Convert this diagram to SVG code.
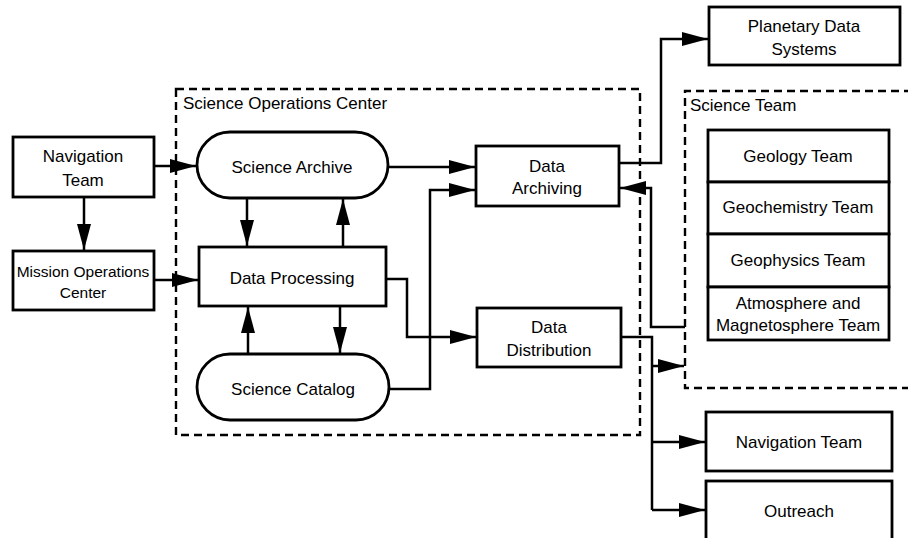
<svg xmlns="http://www.w3.org/2000/svg" width="908" height="538" viewBox="0 0 908 538">
<style>
.box{fill:#fff;stroke:#000;stroke-width:2.8}
.dash{fill:none;stroke:#000;stroke-width:2.4;stroke-dasharray:8,5}
.ln{fill:none;stroke:#000;stroke-width:2.5}
.arr{marker-end:url(#ah)}
text{font-family:"Liberation Sans",Arial,sans-serif;font-size:17px;fill:#000}
.c{text-anchor:middle}
</style>
<defs>
<marker id="ah" markerUnits="userSpaceOnUse" markerWidth="28" markerHeight="16" refX="26" refY="7" orient="auto">
<path d="M0,0 L26,7 L0,14 z" fill="#000"/>
</marker>
</defs>
<rect width="908" height="538" fill="#fff"/>

<g id="soc">
<rect class="dash" x="176" y="89" width="464" height="346"/>
<text x="183" y="109">Science Operations Center</text>
</g>
<g id="science-team">
<path class="dash" d="M912,91 H685 V388 H912"/>
<text x="690" y="111">Science Team</text>
</g>

<g id="connectors">
<path class="ln arr" d="M84,197 V250"/>
<path class="ln arr" d="M154,166 H196"/>
<path class="ln arr" d="M154,280 H198"/>
<path class="ln arr" d="M247,198 V246"/>
<path class="ln arr" d="M343,247 V199"/>
<path class="ln arr" d="M248,354 V307"/>
<path class="ln arr" d="M340,306 V353"/>
<path class="ln arr" d="M388,167 H475"/>
<path class="ln arr" d="M389,389 H430 V190 H475"/>
<path class="ln arr" d="M386,279 H407 V337 H476"/>
<path class="ln arr" d="M619,163 H661 V39 H708"/>
<path class="ln arr" d="M685,327 H651 V188 H620"/>
<path class="ln" d="M621,337 H652 V510"/>
<path class="ln arr" d="M652,366 H684"/>
<path class="ln arr" d="M652,442 H705"/>
<path class="ln arr" d="M652,510 H705"/>
</g>

<g id="nav-team-left">
<rect class="box" x="13" y="137" width="141" height="60"/>
<text class="c" x="83" y="162">Navigation</text>
<text class="c" x="83" y="186">Team</text>
</g>
<g id="moc">
<rect class="box" x="13" y="251" width="141" height="59"/>
<text class="c" x="83" y="277" style="font-size:15.5px">Mission Operations</text>
<text class="c" x="83" y="298" style="font-size:15.5px">Center</text>
</g>
<g id="science-archive">
<rect class="box" x="197" y="132" width="191" height="66" rx="33" ry="33"/>
<text class="c" x="292" y="173">Science Archive</text>
</g>
<g id="data-processing">
<rect class="box" x="199" y="247" width="187" height="59"/>
<text class="c" x="292" y="284">Data Processing</text>
</g>
<g id="science-catalog">
<rect class="box" x="197" y="354" width="192" height="66" rx="33" ry="33"/>
<text class="c" x="293" y="395">Science Catalog</text>
</g>
<g id="data-archiving">
<rect class="box" x="476" y="146" width="143" height="60"/>
<text class="c" x="547" y="172">Data</text>
<text class="c" x="547" y="194">Archiving</text>
</g>
<g id="data-distribution">
<rect class="box" x="477" y="308" width="144" height="59"/>
<text class="c" x="549" y="333">Data</text>
<text class="c" x="549" y="356">Distribution</text>
</g>
<g id="pds">
<rect class="box" x="709" y="7" width="191" height="58"/>
<text class="c" x="804" y="32">Planetary Data</text>
<text class="c" x="804" y="55">Systems</text>
</g>
<g id="geology">
<rect class="box" x="708" y="130" width="181" height="52"/>
<text class="c" x="798" y="162">Geology Team</text>
</g>
<g id="geochemistry">
<rect class="box" x="708" y="182" width="181" height="52"/>
<text class="c" x="798" y="213">Geochemistry Team</text>
</g>
<g id="geophysics">
<rect class="box" x="708" y="234" width="181" height="53"/>
<text class="c" x="798" y="266">Geophysics Team</text>
</g>
<g id="atmosphere">
<rect class="box" x="708" y="287" width="181" height="53"/>
<text class="c" x="798" y="309">Atmosphere and</text>
<text class="c" x="798" y="331">Magnetosphere Team</text>
</g>
<g id="nav-team-right">
<rect class="box" x="706" y="412" width="186" height="59"/>
<text class="c" x="799" y="448">Navigation Team</text>
</g>
<g id="outreach">
<rect class="box" x="706" y="481" width="186" height="62"/>
<text class="c" x="799" y="517">Outreach</text>
</g>
</svg>
